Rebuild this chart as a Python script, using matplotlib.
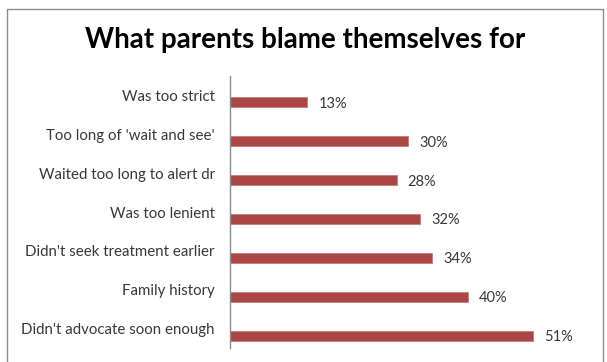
import matplotlib
matplotlib.use("Agg")
import matplotlib.pyplot as plt
from matplotlib.patches import Rectangle

# data (top to bottom as in the chart)
categories = [
    "Was too strict",
    "Too long of 'wait and see'",
    "Waited too long to alert dr",
    "Was too lenient",
    "Didn't seek treatment earlier",
    "Family history",
    "Didn't advocate soon enough",
]
percents = [13, 30, 28, 32, 34, 40, 51]

W, H = 607, 362
fig = plt.figure(figsize=(W / 100, H / 100), dpi=100)
fig.patch.set_facecolor("white")

# chart-area frame (bottom runs off the picture)
fig.patches.append(Rectangle((6.5 / W, -0.05), (603 - 6.5) / W, 1.05 - 8.5 / H,
                             transform=fig.transFigure, fill=False,
                             edgecolor="#8c8c8c", linewidth=1.0))

fig.text(305 / W, 1 - 40 / H, "What parents blame themselves for",
         ha="center", va="center", fontsize=20, fontweight="bold",
         family="Lato", color="black")

left, right = 230 / W, 587 / W
top, bottom = 1 - 76 / H, 1 - 348 / H
ax = fig.add_axes([left, bottom, right - left, top - bottom])

y = list(range(len(categories)))
bar_y = [v + 0.18 for v in y]
ax.barh(bar_y, percents, height=0.26, color="#AA4643", edgecolor="#c97a77",
        linewidth=0.6)

for by, p in zip(bar_y, percents):
    ax.annotate(f"{p}%", (p, by), xytext=(8, -1), textcoords="offset points",
                ha="left", va="center", fontsize=10.5, family="Lato",
                color="#383838")

ax.set_xlim(0, 60)
ax.set_ylim(len(categories) - 0.5, -0.5)
ax.set_yticks(y)
ax.set_yticklabels(categories, fontsize=10.8, family="Lato", color="#383838")
ax.tick_params(axis="y", length=0, pad=11)
ax.set_xticks([])
for s in ["top", "right", "bottom"]:
    ax.spines[s].set_visible(False)
ax.spines["left"].set_color("#8c8c8c")
ax.spines["left"].set_linewidth(1.0)
ax.set_facecolor("none")

fig.savefig("out.png", dpi=100)
